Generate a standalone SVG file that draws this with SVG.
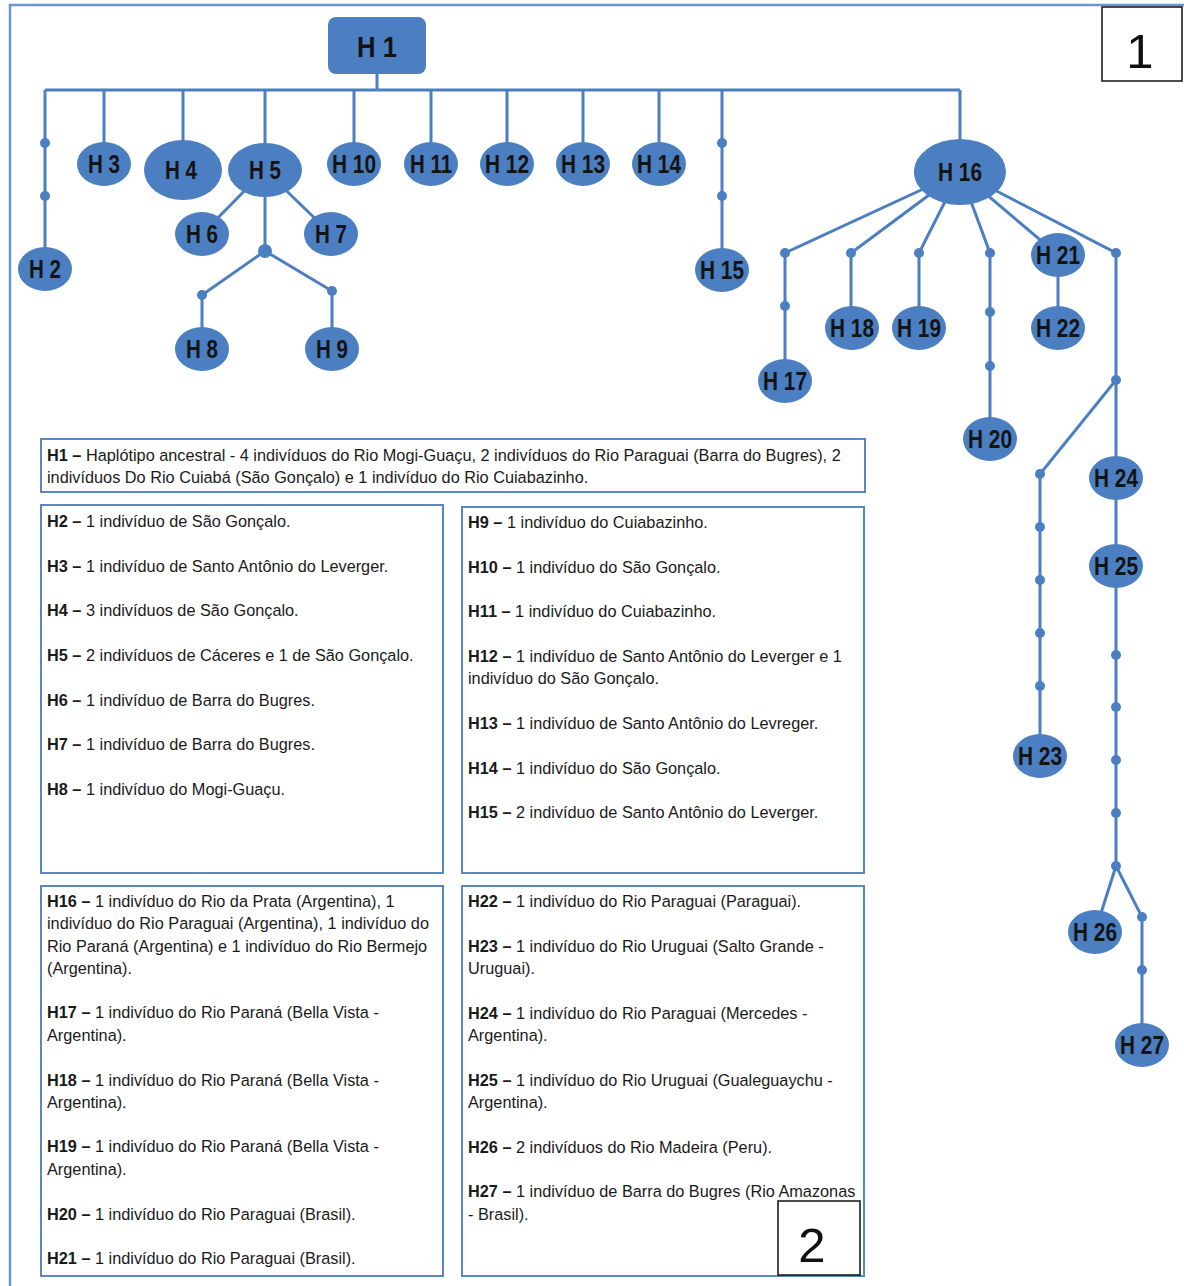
<svg xmlns="http://www.w3.org/2000/svg" width="1184" height="1286" viewBox="0 0 1184 1286">
<style>
.frame{fill:none;stroke:#6c95cb;stroke-width:2.5}
.box{fill:#fff;stroke:#5a86c2;stroke-width:2}
.num{fill:#fff;stroke:#111;stroke-width:1.5}
.numt{font-family:"Liberation Sans",Arial,sans-serif;font-size:49px;fill:#111;text-anchor:middle}
.ln{stroke:#4b7fc1;stroke-width:3;fill:none}
.dot{fill:#4b7fc1}
.nd{fill:#4b7fc1}
.nl{font-family:"Liberation Sans",Arial,sans-serif;font-weight:bold;font-size:25px;fill:#141414;text-anchor:middle}
.tx{font-family:"Liberation Sans",Arial,sans-serif;font-size:16.3px;fill:#1a1a1a}
.b{font-weight:bold}
</style>
<rect x="0" y="0" width="1184" height="1286" fill="#fff"/>
<rect class="frame" x="10" y="5" width="1200" height="1300"/>

<g id="connectors">
<path class="ln" d="M377 74V90M45 90H960M45 90V269M104 90V164M183 90V170M265 90V251M354 90V164M431 90V164M507 90V164M583 90V164M659 90V164M722 90V270M960 90V172"/>
<path class="ln" d="M265 170L202 234M265 170L331 234M265 251L202 295V349M265 251L332 291V349"/>
<path class="ln" d="M960 172L785 253V381M960 172L851 253V328M960 172L919 253V328M960 172L990 253V439M960 172L1058 255V328M960 172L1116 253V866M1116 380L1040 474V756M1116 866L1095 932M1116 866L1142 917V1045"/>
</g>

<g id="median-vectors">
<circle class="dot" cx="45" cy="143" r="5"/>
<circle class="dot" cx="45" cy="196" r="5"/>
<circle class="dot" cx="722" cy="143" r="5"/>
<circle class="dot" cx="722" cy="196" r="5"/>
<circle class="dot" cx="265" cy="251" r="7"/>
<circle class="dot" cx="202" cy="295" r="5"/>
<circle class="dot" cx="332" cy="291" r="5"/>
<circle class="dot" cx="785" cy="253" r="5"/>
<circle class="dot" cx="785" cy="306" r="5"/>
<circle class="dot" cx="851" cy="253" r="5"/>
<circle class="dot" cx="919" cy="253" r="5"/>
<circle class="dot" cx="990" cy="253" r="5"/>
<circle class="dot" cx="990" cy="312" r="5"/>
<circle class="dot" cx="990" cy="366" r="5"/>
<circle class="dot" cx="1116" cy="253" r="5"/>
<circle class="dot" cx="1116" cy="380" r="5"/>
<circle class="dot" cx="1040" cy="474" r="5"/>
<circle class="dot" cx="1040" cy="527" r="5"/>
<circle class="dot" cx="1040" cy="580" r="5"/>
<circle class="dot" cx="1040" cy="633" r="5"/>
<circle class="dot" cx="1040" cy="686" r="5"/>
<circle class="dot" cx="1116" cy="655" r="5"/>
<circle class="dot" cx="1116" cy="707" r="5"/>
<circle class="dot" cx="1116" cy="760" r="5"/>
<circle class="dot" cx="1116" cy="813" r="5"/>
<circle class="dot" cx="1116" cy="866" r="5"/>
<circle class="dot" cx="1142" cy="917" r="5"/>
<circle class="dot" cx="1142" cy="970" r="5"/>
</g>

<g id="H1"><rect class="nd" x="328" y="17" width="98" height="57" rx="8"/><text class="nl" x="377" y="57" style="font-size:30px" textLength="40" lengthAdjust="spacingAndGlyphs">H 1</text></g>
<g id="H2"><ellipse class="nd" cx="45" cy="269" rx="27" ry="22"/><text class="nl" x="45" y="278" textLength="32" lengthAdjust="spacingAndGlyphs">H 2</text></g>
<g id="H3"><ellipse class="nd" cx="104" cy="164" rx="27" ry="22"/><text class="nl" x="104" y="173" textLength="32" lengthAdjust="spacingAndGlyphs">H 3</text></g>
<g id="H4"><ellipse class="nd" cx="183" cy="170" rx="39" ry="30"/><text class="nl" x="181" y="179" textLength="32" lengthAdjust="spacingAndGlyphs">H 4</text></g>
<g id="H5"><ellipse class="nd" cx="265" cy="170" rx="37" ry="27"/><text class="nl" x="265" y="179" textLength="32" lengthAdjust="spacingAndGlyphs">H 5</text></g>
<g id="H6"><ellipse class="nd" cx="202" cy="234" rx="27" ry="22"/><text class="nl" x="202" y="243" textLength="32" lengthAdjust="spacingAndGlyphs">H 6</text></g>
<g id="H7"><ellipse class="nd" cx="331" cy="234" rx="27" ry="22"/><text class="nl" x="331" y="243" textLength="32" lengthAdjust="spacingAndGlyphs">H 7</text></g>
<g id="H8"><ellipse class="nd" cx="202" cy="349" rx="27" ry="22"/><text class="nl" x="202" y="358" textLength="32" lengthAdjust="spacingAndGlyphs">H 8</text></g>
<g id="H9"><ellipse class="nd" cx="332" cy="349" rx="27" ry="22"/><text class="nl" x="332" y="358" textLength="32" lengthAdjust="spacingAndGlyphs">H 9</text></g>
<g id="H10"><ellipse class="nd" cx="354" cy="164" rx="27" ry="22"/><text class="nl" x="354" y="173" textLength="44" lengthAdjust="spacingAndGlyphs">H 10</text></g>
<g id="H11"><ellipse class="nd" cx="431" cy="164" rx="27" ry="22"/><text class="nl" x="431" y="173" textLength="42" lengthAdjust="spacingAndGlyphs">H 11</text></g>
<g id="H12"><ellipse class="nd" cx="507" cy="164" rx="27" ry="22"/><text class="nl" x="507" y="173" textLength="44" lengthAdjust="spacingAndGlyphs">H 12</text></g>
<g id="H13"><ellipse class="nd" cx="583" cy="164" rx="27" ry="22"/><text class="nl" x="583" y="173" textLength="44" lengthAdjust="spacingAndGlyphs">H 13</text></g>
<g id="H14"><ellipse class="nd" cx="659" cy="164" rx="27" ry="22"/><text class="nl" x="659" y="173" textLength="44" lengthAdjust="spacingAndGlyphs">H 14</text></g>
<g id="H15"><ellipse class="nd" cx="722" cy="270" rx="27" ry="22"/><text class="nl" x="722" y="279" textLength="44" lengthAdjust="spacingAndGlyphs">H 15</text></g>
<g id="H16"><ellipse class="nd" cx="960" cy="172" rx="46" ry="33"/><text class="nl" x="960" y="181" textLength="44" lengthAdjust="spacingAndGlyphs">H 16</text></g>
<g id="H17"><ellipse class="nd" cx="785" cy="381" rx="27" ry="22"/><text class="nl" x="785" y="390" textLength="44" lengthAdjust="spacingAndGlyphs">H 17</text></g>
<g id="H18"><ellipse class="nd" cx="852" cy="328" rx="27" ry="22"/><text class="nl" x="852" y="337" textLength="44" lengthAdjust="spacingAndGlyphs">H 18</text></g>
<g id="H19"><ellipse class="nd" cx="919" cy="328" rx="27" ry="22"/><text class="nl" x="919" y="337" textLength="44" lengthAdjust="spacingAndGlyphs">H 19</text></g>
<g id="H20"><ellipse class="nd" cx="990" cy="439" rx="27" ry="22"/><text class="nl" x="990" y="448" textLength="44" lengthAdjust="spacingAndGlyphs">H 20</text></g>
<g id="H21"><ellipse class="nd" cx="1058" cy="255" rx="27" ry="22"/><text class="nl" x="1058" y="264" textLength="44" lengthAdjust="spacingAndGlyphs">H 21</text></g>
<g id="H22"><ellipse class="nd" cx="1058" cy="328" rx="27" ry="22"/><text class="nl" x="1058" y="337" textLength="44" lengthAdjust="spacingAndGlyphs">H 22</text></g>
<g id="H23"><ellipse class="nd" cx="1040" cy="756" rx="27" ry="22"/><text class="nl" x="1040" y="765" textLength="44" lengthAdjust="spacingAndGlyphs">H 23</text></g>
<g id="H24"><ellipse class="nd" cx="1116" cy="478" rx="27" ry="22"/><text class="nl" x="1116" y="487" textLength="44" lengthAdjust="spacingAndGlyphs">H 24</text></g>
<g id="H25"><ellipse class="nd" cx="1116" cy="566" rx="27" ry="22"/><text class="nl" x="1116" y="575" textLength="44" lengthAdjust="spacingAndGlyphs">H 25</text></g>
<g id="H26"><ellipse class="nd" cx="1095" cy="932" rx="27" ry="22"/><text class="nl" x="1095" y="941" textLength="44" lengthAdjust="spacingAndGlyphs">H 26</text></g>
<g id="H27"><ellipse class="nd" cx="1142" cy="1045" rx="27" ry="22"/><text class="nl" x="1142" y="1054" textLength="44" lengthAdjust="spacingAndGlyphs">H 27</text></g>

<g id="legend-h1">
<rect class="box" x="41" y="439" width="824" height="53"/>
<text class="tx" x="47" y="461"><tspan class="b">H1 –</tspan> Haplótipo ancestral - 4 indivíduos do Rio Mogi-Guaçu, 2 indivíduos do Rio Paraguai (Barra do Bugres), 2</text>
<text class="tx" x="47" y="483">indivíduos Do Rio Cuiabá (São Gonçalo) e 1 indivíduo do Rio Cuiabazinho.</text>
</g>

<g id="legend-a">
<rect class="box" x="41" y="505" width="402" height="368"/>
<text class="tx" x="47" y="527"><tspan class="b">H2 –</tspan> 1 indivíduo de São Gonçalo.</text>
<text class="tx" x="47" y="572"><tspan class="b">H3 –</tspan> 1 indivíduo de Santo Antônio do Leverger.</text>
<text class="tx" x="47" y="616"><tspan class="b">H4 –</tspan> 3 indivíduos de São Gonçalo.</text>
<text class="tx" x="47" y="661"><tspan class="b">H5 –</tspan> 2 indivíduos de Cáceres e 1 de São Gonçalo.</text>
<text class="tx" x="47" y="706"><tspan class="b">H6 –</tspan> 1 indivíduo de Barra do Bugres.</text>
<text class="tx" x="47" y="750"><tspan class="b">H7 –</tspan> 1 indivíduo de Barra do Bugres.</text>
<text class="tx" x="47" y="795"><tspan class="b">H8 –</tspan> 1 indivíduo do Mogi-Guaçu.</text>
</g>

<g id="legend-b">
<rect class="box" x="462" y="507" width="402" height="366"/>
<text class="tx" x="468" y="528"><tspan class="b">H9 –</tspan> 1 indivíduo do Cuiabazinho.</text>
<text class="tx" x="468" y="573"><tspan class="b">H10 –</tspan> 1 indivíduo do São Gonçalo.</text>
<text class="tx" x="468" y="617"><tspan class="b">H11 –</tspan> 1 indivíduo do Cuiabazinho.</text>
<text class="tx" x="468" y="662"><tspan class="b">H12 –</tspan> 1 indivíduo de Santo Antônio do Leverger e 1</text>
<text class="tx" x="468" y="684">indivíduo do São Gonçalo.</text>
<text class="tx" x="468" y="729"><tspan class="b">H13 –</tspan> 1 indivíduo de Santo Antônio do Levreger.</text>
<text class="tx" x="468" y="774"><tspan class="b">H14 –</tspan> 1 indivíduo do São Gonçalo.</text>
<text class="tx" x="468" y="818"><tspan class="b">H15 –</tspan> 2 indivíduo de Santo Antônio do Leverger.</text>
</g>

<g id="legend-c">
<rect class="box" x="41" y="886" width="402" height="390"/>
<text class="tx" x="47" y="907"><tspan class="b">H16 –</tspan> 1 indivíduo do Rio da Prata (Argentina), 1</text>
<text class="tx" x="47" y="929">indivíduo do Rio Paraguai (Argentina), 1 indivíduo do</text>
<text class="tx" x="47" y="952">Rio Paraná (Argentina) e 1 indivíduo do Rio Bermejo</text>
<text class="tx" x="47" y="974">(Argentina).</text>
<text class="tx" x="47" y="1018"><tspan class="b">H17 –</tspan> 1 indivíduo do Rio Paraná (Bella Vista -</text>
<text class="tx" x="47" y="1041">Argentina).</text>
<text class="tx" x="47" y="1086"><tspan class="b">H18 –</tspan> 1 indivíduo do Rio Paraná (Bella Vista -</text>
<text class="tx" x="47" y="1108">Argentina).</text>
<text class="tx" x="47" y="1152"><tspan class="b">H19 –</tspan> 1 indivíduo do Rio Paraná (Bella Vista -</text>
<text class="tx" x="47" y="1175">Argentina).</text>
<text class="tx" x="47" y="1220"><tspan class="b">H20 –</tspan> 1 indivíduo do Rio Paraguai (Brasil).</text>
<text class="tx" x="47" y="1264"><tspan class="b">H21 –</tspan> 1 indivíduo do Rio Paraguai (Brasil).</text>
</g>

<g id="legend-d">
<rect class="box" x="462" y="886" width="402" height="390"/>
<text class="tx" x="468" y="907"><tspan class="b">H22 –</tspan> 1 indivíduo do Rio Paraguai (Paraguai).</text>
<text class="tx" x="468" y="952"><tspan class="b">H23 –</tspan> 1 indivíduo do Rio Uruguai (Salto Grande -</text>
<text class="tx" x="468" y="974">Uruguai).</text>
<text class="tx" x="468" y="1019"><tspan class="b">H24 –</tspan> 1 indivíduo do Rio Paraguai (Mercedes -</text>
<text class="tx" x="468" y="1041">Argentina).</text>
<text class="tx" x="468" y="1086"><tspan class="b">H25 –</tspan> 1 indivíduo do Rio Uruguai (Gualeguaychu -</text>
<text class="tx" x="468" y="1108">Argentina).</text>
<text class="tx" x="468" y="1153"><tspan class="b">H26 –</tspan> 2 indivíduos do Rio Madeira (Peru).</text>
<text class="tx" x="468" y="1197"><tspan class="b">H27 –</tspan> 1 indivíduo de Barra do Bugres (Rio Amazonas</text>
<text class="tx" x="468" y="1220">- Brasil).</text>
</g>

<g id="label-1"><rect class="num" x="1102" y="7" width="80" height="74"/><text class="numt" x="1140" y="68">1</text></g>
<g id="label-2"><rect class="num" x="778" y="1201" width="82" height="74"/><text class="numt" x="812" y="1262">2</text></g>
</svg>
